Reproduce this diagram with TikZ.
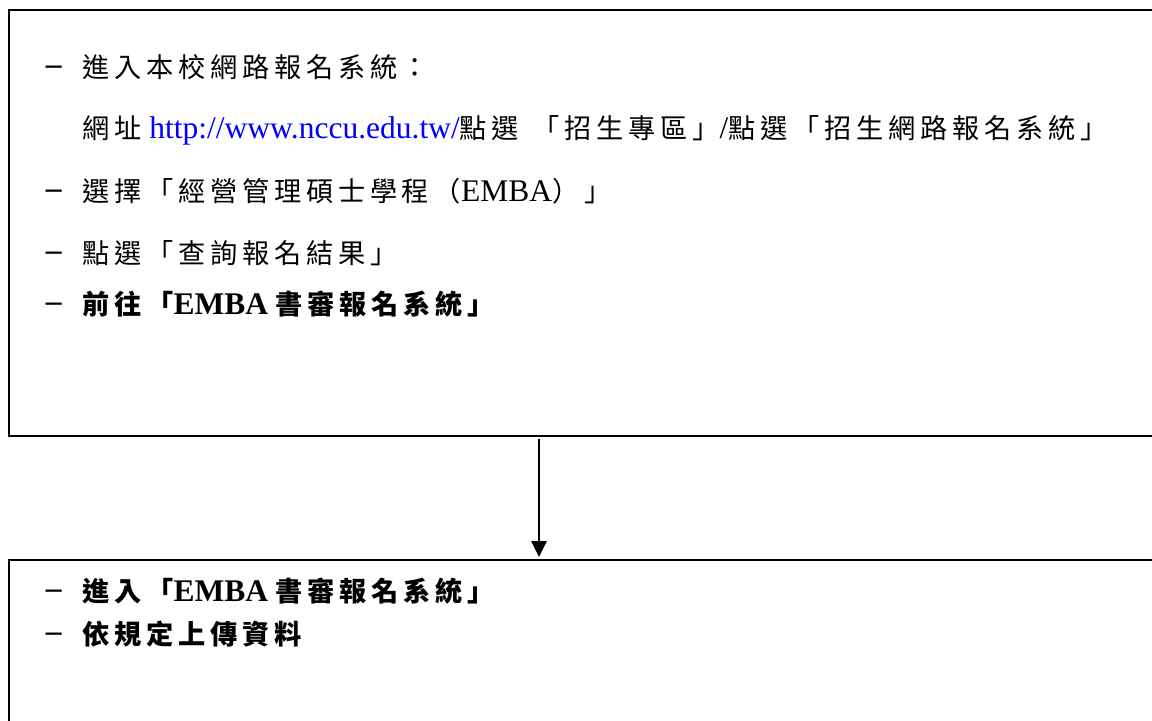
\documentclass[tikz,border=0pt]{standalone}
\usepackage{fontspec}
\setmainfont{Liberation Serif}
\newfontfamily\cjk{Noto Sans CJK TC}[LetterSpace=17.5]
\usetikzlibrary{arrows.meta}

\definecolor{urlblue}{RGB}{0,0,255}
% CJK runs are set a little smaller and spaced out
\newcommand\zh[1]{{\cjk\fontsize{13.6}{18}\selectfont #1}}

\tikzset{
  box/.style={draw=black, line width=1pt, anchor=north west, minimum width=590pt, inner sep=0pt},
  txt/.style={anchor=base west, inner sep=0pt, font=\fontsize{15.75}{18}\selectfont},
  dashmark/.style={txt, anchor=base east},
  flow/.style={line width=1.3pt, shorten <=1pt, shorten >=1pt, -{Triangle[width=7.5pt,length=8pt]}}
}

\begin{document}
\begin{tikzpicture}[x=0.5pt,y=-0.5pt]
\clip (0,0) rectangle (1152,720);
\useasboundingbox (0,0) rectangle (1152,720);

% both boxes run on past the right edge (and the lower one past the bottom)
\node[box, minimum height=213pt] (topbox) at (8,9) {};
\node[box, minimum height=200pt] (botbox) at (8,559) {};

% steps in the upper box
\node[txt] (l1) at (82,77) {\zh{進入本校網路報名系統：}};
\node[txt] (l2) at (82,138) {\zh{網址} \textcolor{urlblue}{http://www.nccu.edu.tw/}\zh{點選}\hspace{3pt} \zh{「招生專區」}/\zh{點選「招生網路報名系統」}};
\node[txt] (l3) at (82,201) {\zh{選擇「經營管理碩士學程（}EMBA\zh{）」}};
\node[txt] (l4) at (82,263) {\zh{點選「查詢報名結果」}};
\node[txt] (l5) at (82,314) {\bfseries\zh{前往「}EMBA \zh{書審報名系統」}};

% steps in the lower box
\node[txt] (b1) at (82,601) {\bfseries\zh{進入「}EMBA \zh{書審報名系統」}};
\node[txt] (b2) at (82,644) {\bfseries\zh{依規定上傳資料}};

\foreach \n in {l1,l3,l4,l5,b1,b2}
  \node[dashmark] (d-\n) at ([xshift=-10pt]\n.base west) {\raisebox{1.2pt}{\bfseries –}};

\coordinate (ax) at (539,0);
\draw[flow] (topbox.south -| ax) -- (botbox.north -| ax);
\end{tikzpicture}
\end{document}
